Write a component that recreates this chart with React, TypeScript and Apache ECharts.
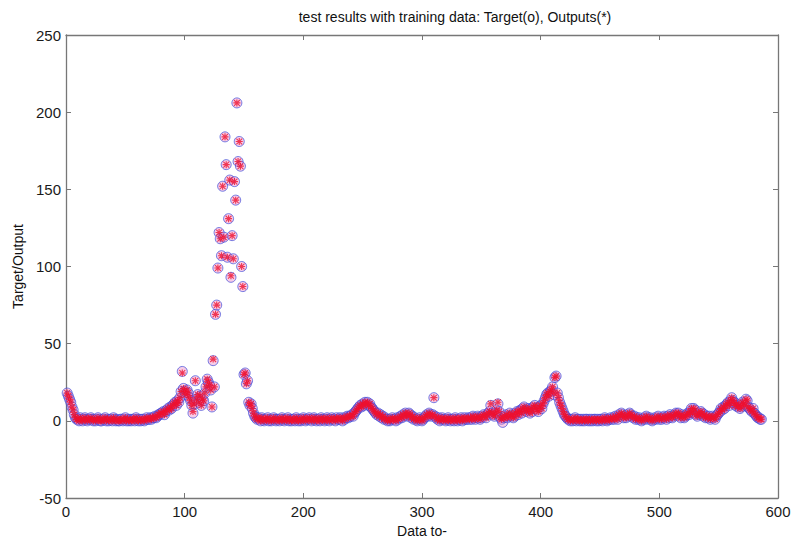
import React, { useEffect, useRef } from "react";
import * as echarts from "echarts";

const titleText = "test results with training data: Target(o), Outputs(*)";
const xAxisName = "Data to-";
const yAxisName = "Target/Output";
const xRange = [0, 600, 100];
const yRange = [-50, 250, 50];

// Target values, sample number 1..586 (20 per row)
const target: number[] = [
  18, 16, 14, 12, 9, 7, 4, 2, 1, 1, 0, 2, 1, 0, 1, 2, 1, 0, 1, 1,
  2, 1, 0, 1, 0, 1, 2, 1, 0, 0, 1, 1, 2, 0, 1, 0, 1, 1, 0, 2,
  1, 0, 1, 0, 0, 1, 1, 0, 1, 2, 0, 1, 0, 1, 0, 1, 1, 0, 2, 1,
  0, 1, 0, 1, 1, 0, 1, 2, 1, 1, 2, 1, 2, 2, 3, 2, 3, 4, 4, 5,
  5, 6, 4, 6, 7, 8, 7, 9, 8, 10, 11, 12, 10, 13, 12, 15, 19, 32, 21, 19,
  17, 20, 18, 15, 13, 10, 5, 11, 26, 14, 17, 12, 16, 10, 14, 13, 18, 22, 27, 25,
  23, 20, 9, 39, 22, 69, 75, 99, 122, 118, 107, 152, 119, 184, 166, 106, 131, 156, 93, 120,
  105, 155, 143, 206, 168, 181, 165, 100, 87, 30, 31, 24, 26, 12, 10, 11, 8, 5, 3, 2,
  1, 2, 1, 0, 2, 1, 0, 1, 1, 2, 0, 1, 0, 1, 2, 1, 0, 1, 1, 0,
  1, 2, 1, 0, 1, 1, 2, 0, 1, 0, 1, 1, 0, 2, 1, 0, 1, 0, 1, 2,
  1, 0, 1, 1, 2, 1, 0, 1, 2, 1, 0, 1, 1, 0, 2, 1, 1, 0, 1, 2,
  1, 0, 1, 2, 1, 1, 0, 2, 1, 1, 2, 1, 0, 2, 1, 2, 3, 2, 3, 3,
  4, 3, 5, 6, 7, 8, 9, 10, 9, 11, 10, 12, 11, 12, 10, 11, 9, 8, 7, 6,
  5, 4, 5, 3, 4, 2, 3, 1, 2, 1, 0, 1, 0, 1, 2, 1, 1, 0, 2, 1,
  2, 3, 2, 4, 3, 5, 4, 3, 5, 4, 2, 3, 1, 2, 1, 0, 1, 2, 1, 0,
  1, 2, 3, 4, 3, 5, 4, 3, 4, 15, 3, 2, 1, 2, 0, 1, 2, 1, 1, 0,
  1, 2, 1, 0, 1, 1, 0, 2, 1, 0, 1, 1, 2, 0, 1, 2, 1, 1, 2, 1,
  2, 1, 3, 2, 1, 2, 3, 2, 1, 2, 3, 4, 3, 2, 4, 5, 6, 10, 5, 4,
  3, 5, 7, 11, 6, 2, 1, -1, 2, 3, 4, 2, 3, 5, 3, 4, 2, 3, 5, 6,
  4, 6, 7, 5, 8, 9, 7, 6, 8, 7, 5, 8, 6, 9, 10, 8, 7, 6, 9, 10,
  8, 11, 13, 15, 17, 18, 16, 19, 20, 22, 17, 28, 29, 18, 15, 12, 10, 8, 6, 4,
  3, 2, 1, 1, 0, 1, 0, 1, 2, 0, 1, 1, 0, 1, 0, 1, 0, 1, 1, 0,
  1, 0, 1, 0, 1, 1, 0, 1, 0, 1, 1, 0, 1, 2, 1, 0, 1, 1, 2, 1,
  2, 1, 3, 2, 1, 4, 3, 5, 4, 2, 3, 2, 4, 3, 5, 4, 3, 2, 3, 1,
  2, 1, 2, 1, 0, 1, 2, 1, 3, 2, 1, 2, 1, 0, 1, 2, 1, 2, 3, 1,
  2, 1, 2, 3, 2, 1, 3, 2, 4, 3, 2, 3, 4, 5, 4, 5, 3, 2, 4, 3,
  2, 3, 4, 5, 4, 6, 8, 5, 8, 7, 4, 3, 5, 4, 6, 5, 3, 4, 2, 3,
  2, 3, 1, 2, 3, 2, 1, 3, 4, 5, 6, 8, 7, 9, 8, 10, 11, 12, 10, 13,
  15, 13, 12, 10, 11, 9, 10, 8, 9, 12, 11, 10, 14, 13, 9, 8, 7, 6, 8, 5,
  4, 3, 2, 2, 1, 1,
];

// Samples where the network output visibly differs from the target: [sample, output]
const outputOverrides: [number, number][] = [
  [358, 11], [364, 12], [368, 2], [107, 6], [139, 94], [411, 18], [124, 40], [98, 31],
];

const ASTERISK =
  "path://M0 4.2L10 4.2L10 5.8L0 5.8ZM4.2 0L5.8 0L5.8 10L4.2 10ZM1.4 0.3L9.7 8.6L8.6 9.7L0.3 1.4ZM8.6 0.3L9.7 1.4L1.4 9.7L0.3 8.6Z";

const FONT = "'Liberation Sans', Arial, Helvetica, sans-serif";

export default function App() {
  const ref = useRef<HTMLDivElement>(null);
  useEffect(() => {
    document.body.style.margin = "0";
    if (!ref.current) return;
    const chart = echarts.init(ref.current, undefined, { renderer: "svg" });
    const overrideMap = new Map(outputOverrides);
    const targetData = target.map((v, i) => [i + 1, v]);
    const outputData = target.map((v, i) => [i + 1, overrideMap.has(i + 1) ? overrideMap.get(i + 1) : v]);
    const axisColor = "#777777";
    const labelStyle = { color: "#1a1a1a", fontSize: 15, fontFamily: FONT };
    const tick = { show: true, inside: true, length: 5, lineStyle: { color: axisColor } };
    const line = { show: true, onZero: false, lineStyle: { color: axisColor, width: 1.3 } };
    chart.setOption({
      animation: false,
      backgroundColor: "#ffffff",
      title: {
        text: titleText,
        left: 450,
        textAlign: "center",
        top: 5,
        textStyle: { fontSize: 14, fontWeight: "normal", color: "#111", fontFamily: FONT },
      },
      grid: { left: 66, right: 20, top: 35, bottom: 47 },
      xAxis: [
        {
          type: "value",
          min: xRange[0],
          max: xRange[1],
          interval: xRange[2],
          position: "bottom",
          axisLine: line,
          axisTick: tick,
          splitLine: { show: false },
          axisLabel: { ...labelStyle, margin: 6 },
          name: xAxisName,
          nameLocation: "middle",
          nameGap: 24,
          nameTextStyle: { fontSize: 14, color: "#111", fontFamily: FONT },
        },
        {
          type: "value",
          min: xRange[0],
          max: xRange[1],
          interval: xRange[2],
          position: "top",
          axisLine: line,
          axisTick: tick,
          splitLine: { show: false },
          axisLabel: { show: false },
        },
      ],
      yAxis: [
        {
          type: "value",
          min: yRange[0],
          max: yRange[1],
          interval: yRange[2],
          position: "left",
          axisLine: line,
          axisTick: tick,
          splitLine: { show: false },
          axisLabel: { ...labelStyle, margin: 5 },
          name: yAxisName,
          nameLocation: "middle",
          nameGap: 41,
          nameTextStyle: { fontSize: 14, color: "#111", fontFamily: FONT },
        },
        {
          type: "value",
          min: yRange[0],
          max: yRange[1],
          interval: yRange[2],
          position: "right",
          axisLine: line,
          axisTick: tick,
          splitLine: { show: false },
          axisLabel: { show: false },
        },
      ],
      series: [
        {
          name: "Target",
          type: "scatter",
          xAxisIndex: 0,
          yAxisIndex: 0,
          data: targetData,
          symbol: "circle",
          symbolSize: 10,
          itemStyle: {
            color: "rgba(236,130,195,0.5)",
            borderColor: "rgba(55,70,215,0.85)",
            borderWidth: 1,
          },
          z: 2,
        },
        {
          name: "Outputs",
          type: "scatter",
          xAxisIndex: 0,
          yAxisIndex: 0,
          data: outputData,
          symbol: ASTERISK,
          symbolSize: 7,
          itemStyle: { color: "#ee1030" },
          z: 3,
        },
      ],
    });
    return () => chart.dispose();
  }, []);
  return <div ref={ref} style={{ width: 798, height: 545 }} />;
}
